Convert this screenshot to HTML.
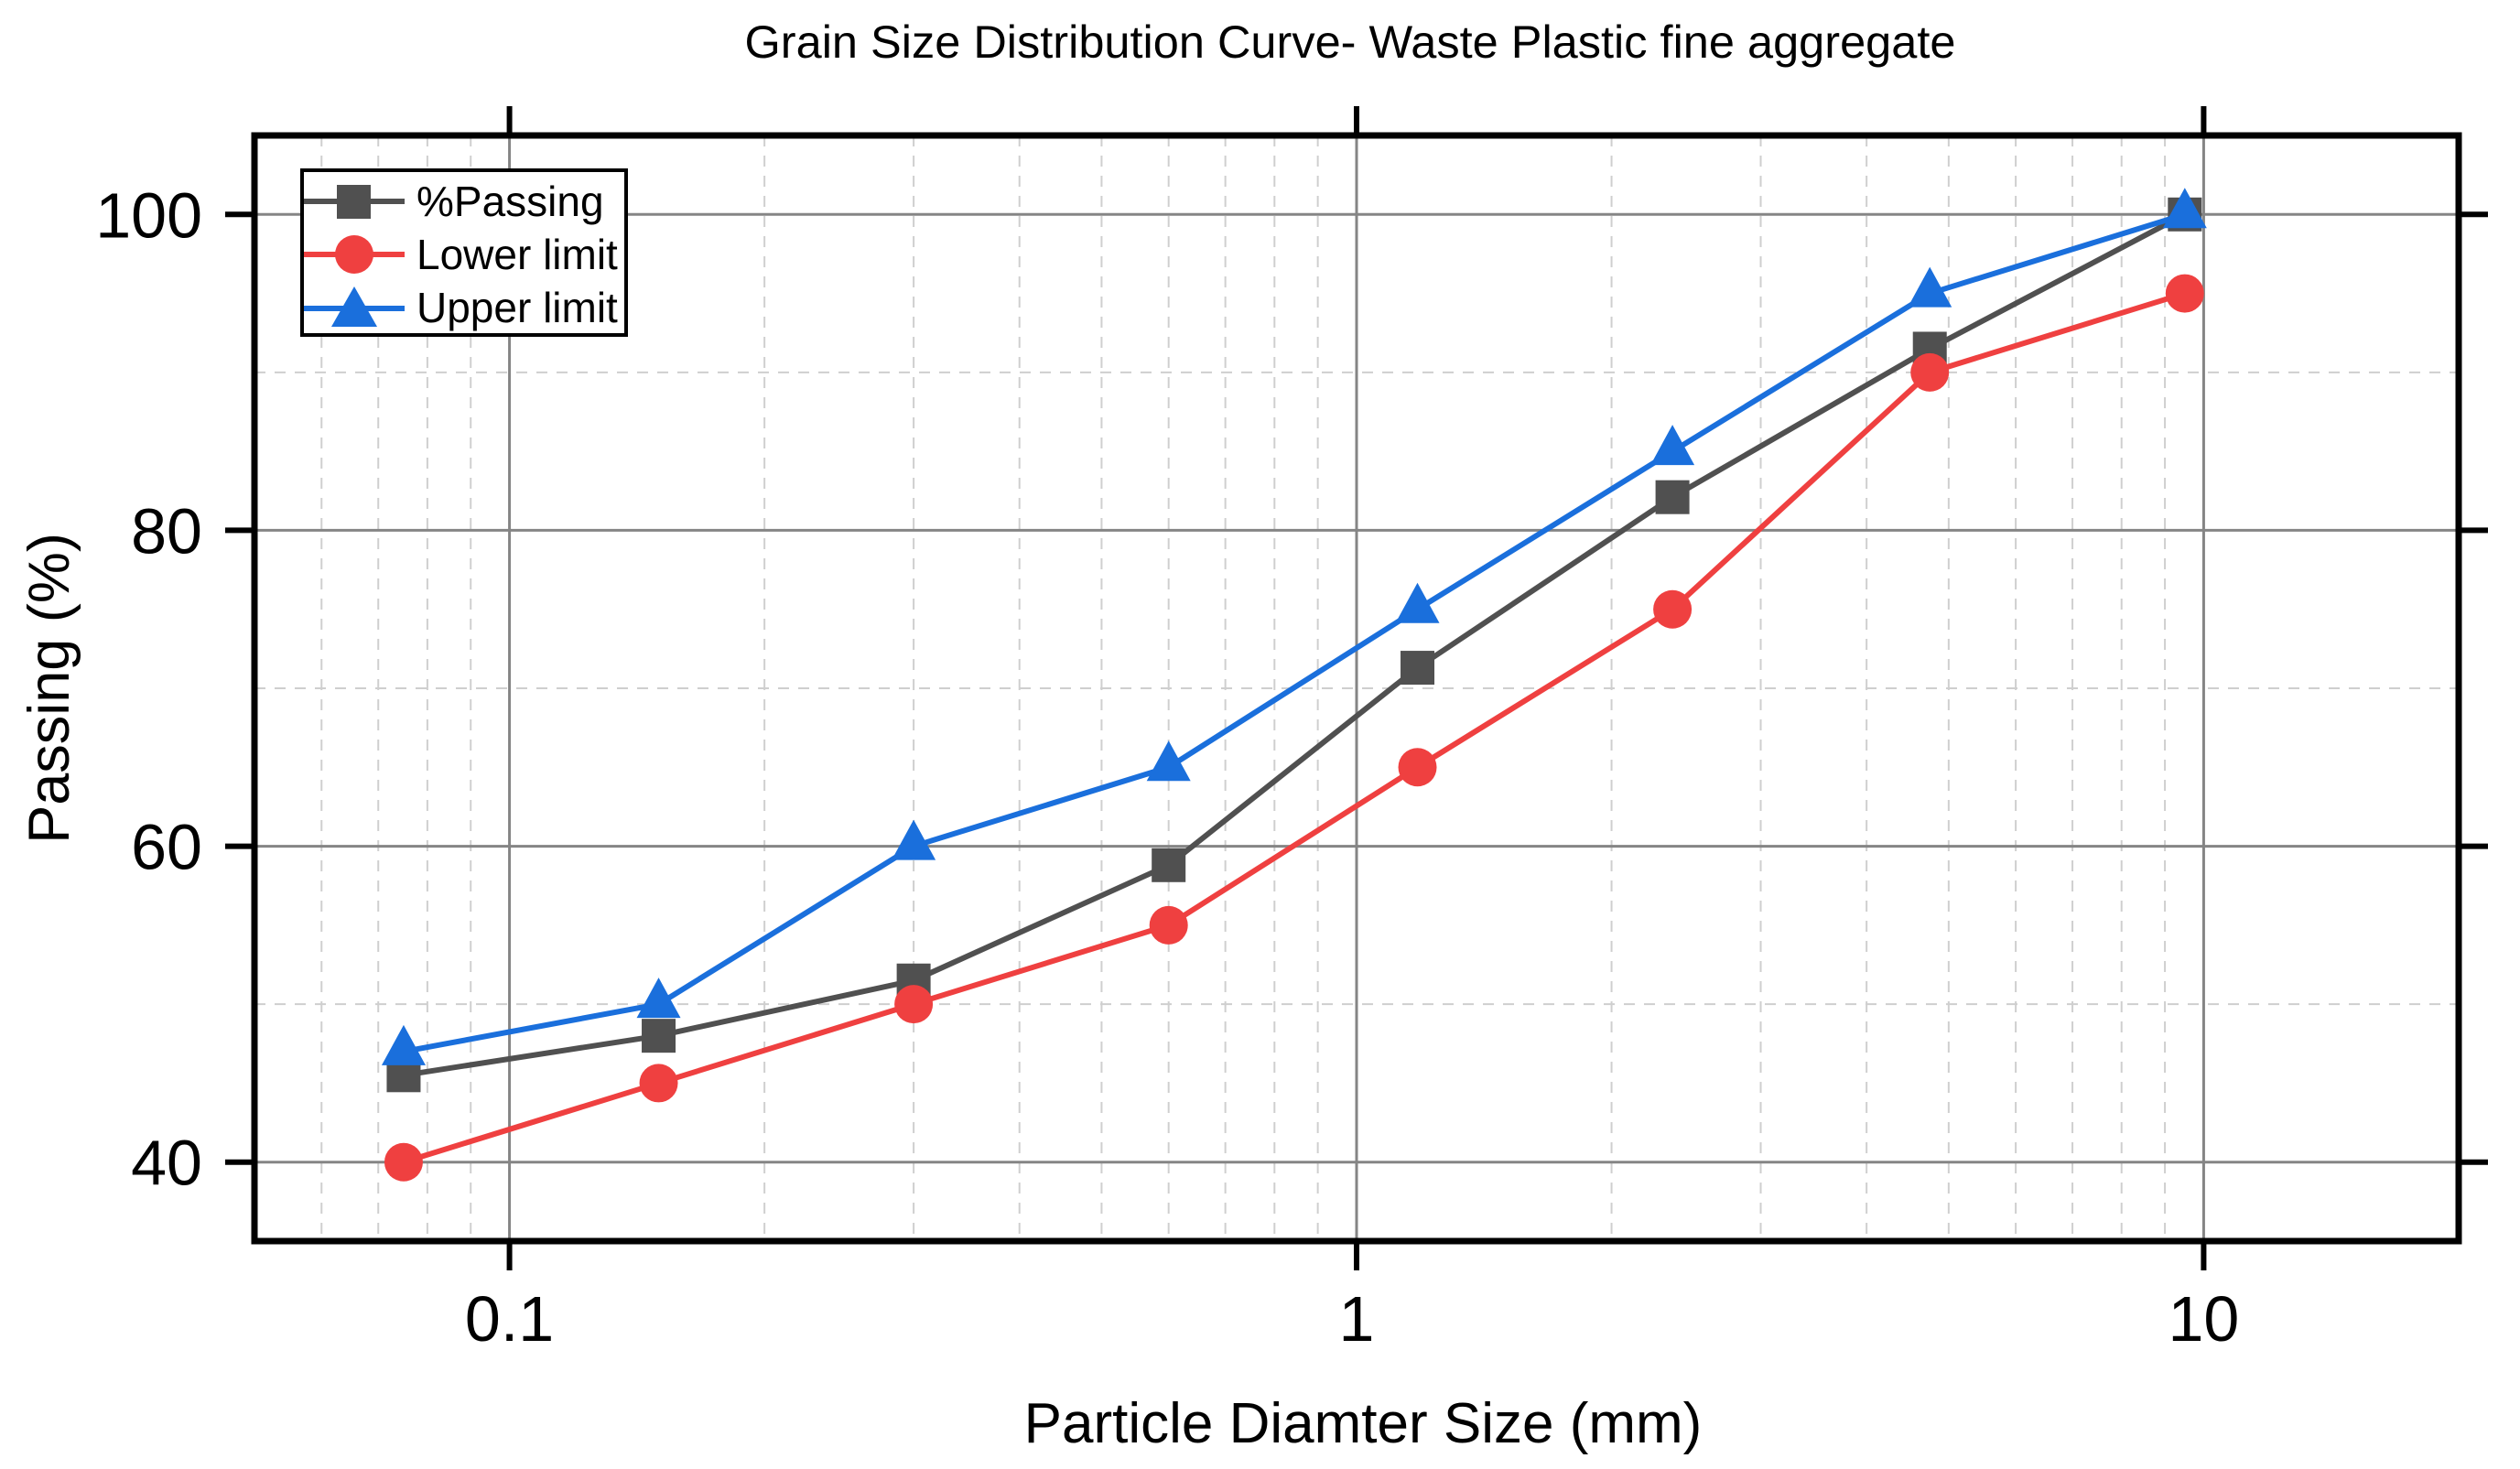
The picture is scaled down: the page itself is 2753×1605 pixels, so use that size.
<!DOCTYPE html>
<html><head><meta charset="utf-8"><style>
html,body{margin:0;padding:0;background:#fff;}
svg text{font-family:"Liberation Sans",Arial,sans-serif;}
</style></head><body>
<svg id="chart" width="2753" height="1600" viewBox="0 0 2753 1600" xmlns="http://www.w3.org/2000/svg">
<text x="1475" y="63" font-size="50.5" text-anchor="middle">Grain Size Distribution Curve- Waste Plastic fine aggregate</text>
<g id="grid"></g>
<g id="series"></g>
<g id="axes"></g>
<text x="1489" y="1576" font-size="62" text-anchor="middle">Particle Diamter Size (mm)</text>
<text transform="translate(75,752) rotate(-90)" font-size="63" text-anchor="middle">Passing (%)</text>
<g>
<rect x="330" y="186" width="354" height="180" fill="#fff" stroke="#000" stroke-width="4"/>
<g>
<line x1="332" y1="220" x2="442" y2="220" stroke="#505050" stroke-width="6"/>
<rect x="368" y="202" width="37" height="37" fill="#505050"/>
<text x="455" y="236" font-size="46">%Passing</text></g>
<g>
<line x1="332" y1="278" x2="442" y2="278" stroke="#ef4040" stroke-width="6"/>
<circle cx="387" cy="278" r="21" fill="#ef4040"/>
<text x="455" y="294" font-size="46">Lower limit</text></g>
<g>
<line x1="332" y1="337" x2="442" y2="337" stroke="#1a6fdc" stroke-width="6"/>
<polygon points="387,313 412,357 362,357" fill="#1a6fdc"/>
<text x="455" y="352" font-size="46">Upper limit</text></g>
</g>
</svg>
<script>
const sizes = [0.075, 0.15, 0.3, 0.6, 1.18, 2.36, 4.75, 9.5];
const passing = [45.5, 48, 51.5, 58.8, 71.3, 82.1, 91.5, 100];
const lowerLimit = [40, 45, 50, 55, 65, 75, 90, 95];
const upperLimit = [47, 50, 60, 65, 75, 85, 95, 100];
const xTicks = [0.1, 1, 10];
const xTickLabels = ["0.1", "1", "10"];
const yTicks = [40, 60, 80, 100];
const yMinor = [50, 70, 90];

const L=278,R=2686,T=148,B=1356,XMIN=0.05,XMAX=20,YMIN=35,YMAX=105;
const NS='http://www.w3.org/2000/svg';
function sx(v){return L+(Math.log10(v)-Math.log10(XMIN))/(Math.log10(XMAX)-Math.log10(XMIN))*(R-L);}
function sy(v){return B-(v-YMIN)/(YMAX-YMIN)*(B-T);}
function mk(tag,attrs,parent){const e=document.createElementNS(NS,tag);for(const k in attrs)e.setAttribute(k,attrs[k]);parent.appendChild(e);return e;}
const grid=document.getElementById('grid'),ser=document.getElementById('series'),axes=document.getElementById('axes');
for(let d=-2;d<=1;d++){for(let m=2;m<=9;m++){const v=m*Math.pow(10,d);if(v<=XMIN||v>=XMAX)continue;
const l=mk('line',{x1:sx(v),x2:sx(v),y1:T,y2:B,stroke:'#cfcfcf','stroke-width':2,'stroke-dasharray':'12,10'},grid);

}}
yMinor.forEach(v=>{const l=mk('line',{x1:L,x2:R,y1:sy(v),y2:sy(v),stroke:'#cfcfcf','stroke-width':2,'stroke-dasharray':'12,10'},grid);

});
xTicks.forEach((v,i)=>{const l=mk('line',{x1:sx(v),x2:sx(v),y1:T,y2:B,stroke:'#858585','stroke-width':3},grid);


const t1=mk('line',{x1:sx(v),x2:sx(v),y1:B,y2:B+32,stroke:'#000','stroke-width':6},axes);


const t2=mk('line',{x1:sx(v),x2:sx(v),y1:T,y2:T-32,stroke:'#000','stroke-width':6},axes);


const tx=mk('text',{x:sx(v),y:1465,'font-size':70,'text-anchor':'middle'},axes);tx.textContent=xTickLabels[i];

});
yTicks.forEach(v=>{const l=mk('line',{x1:L,x2:R,y1:sy(v),y2:sy(v),stroke:'#858585','stroke-width':3},grid);


const t1=mk('line',{x1:L-32,x2:L,y1:sy(v),y2:sy(v),stroke:'#000','stroke-width':6},axes);


const t2=mk('line',{x1:R,x2:R+32,y1:sy(v),y2:sy(v),stroke:'#000','stroke-width':6},axes);


const tx=mk('text',{x:221,y:sy(v)+25,'font-size':70,'text-anchor':'end'},axes);tx.textContent=String(v);

});
const fr=mk('rect',{x:L,y:T,width:R-L,height:B-T,fill:'none',stroke:'#000','stroke-width':7},axes);


function drawSeries(vals,color,shape,name){
const g=mk('g',{},ser);


const pl=mk('polyline',{points:sizes.map((s,i)=>sx(s)+','+sy(vals[i])).join(' '),fill:'none',stroke:color,'stroke-width':6,'stroke-linejoin':'round'},g);


sizes.forEach((s,i)=>{const x=sx(s),y=sy(vals[i]);let m;
if(shape==='sq')m=mk('rect',{x:x-18.5,y:y-18.5,width:37,height:37,fill:color},g);
else if(shape==='c')m=mk('circle',{cx:x,cy:y,r:21,fill:color},g);
else m=mk('polygon',{points:`${x},${y-29} ${x+24},${y+15} ${x-24},${y+15}`,fill:color},g);

});}
drawSeries(passing,'#505050','sq','passing');
drawSeries(lowerLimit,'#ef4040','c','lower-limit');
drawSeries(upperLimit,'#1a6fdc','t','upper-limit');
</script>
</body></html>
